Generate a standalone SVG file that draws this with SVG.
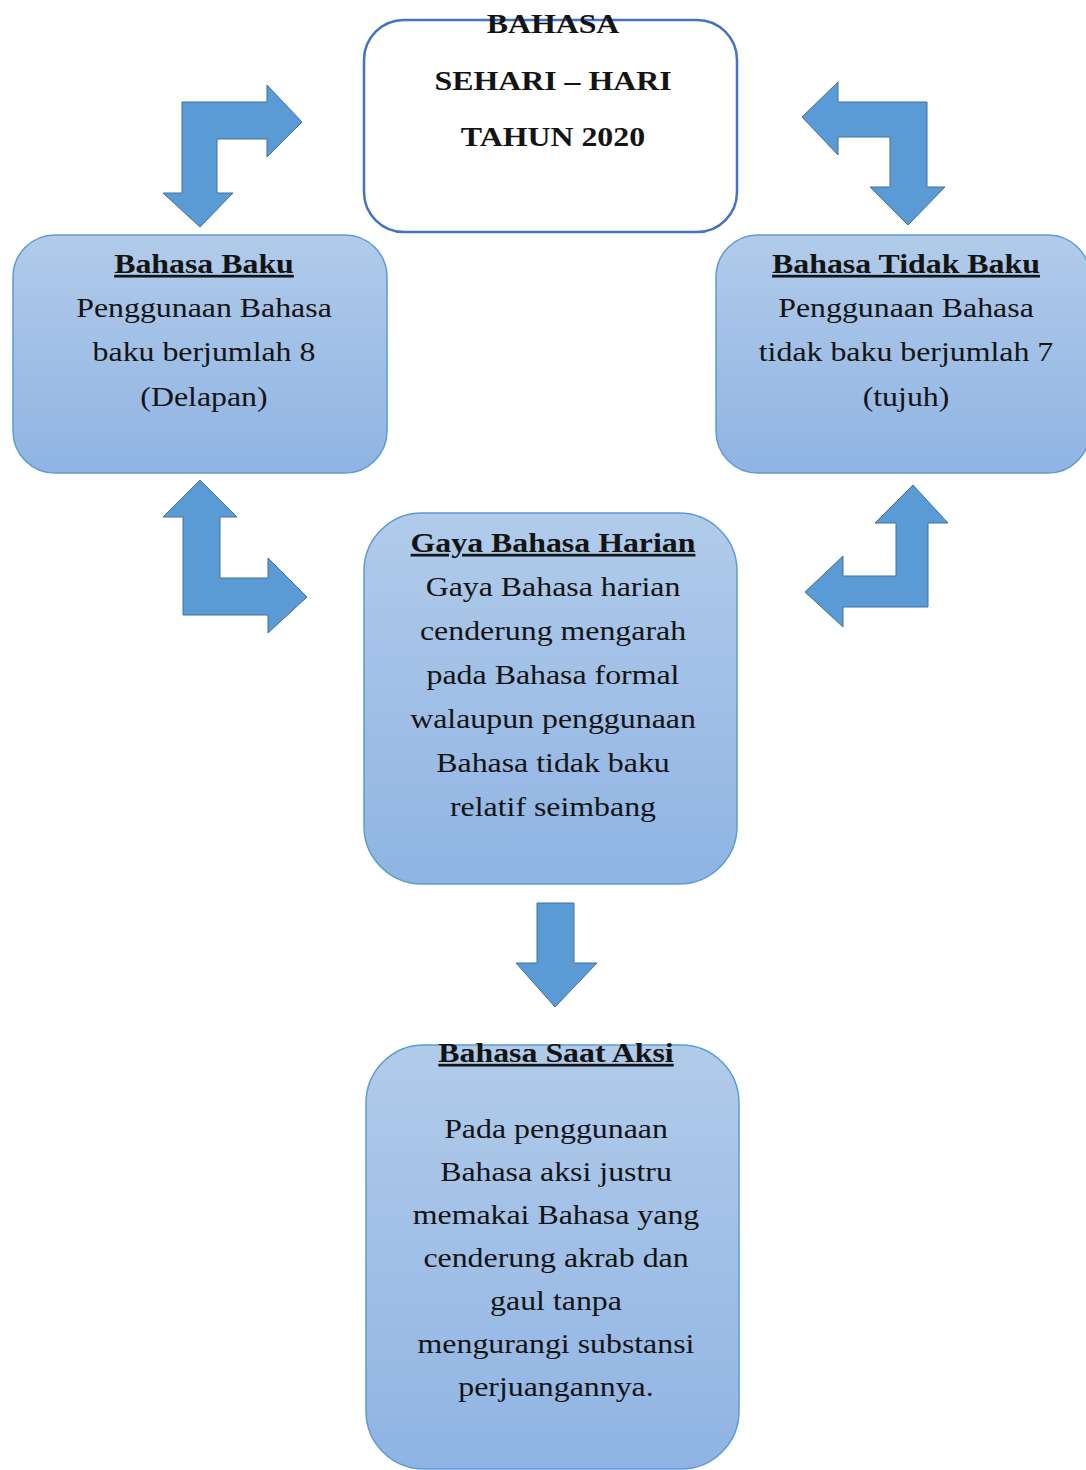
<svg xmlns="http://www.w3.org/2000/svg" width="1086" height="1470" viewBox="0 0 1086 1470">
<defs>
<linearGradient id="boxGrad" x1="0" y1="0" x2="0" y2="1">
<stop offset="0" stop-color="#b1cbea"/>
<stop offset="1" stop-color="#8fb4e3"/>
</linearGradient>
<style>
.box{fill:url(#boxGrad);stroke:#5b9bd5;stroke-width:1.5}
.top{fill:#ffffff;stroke:#4472c4;stroke-width:2.5}
.arrow{fill:#5b9bd5;stroke:#41719c;stroke-width:1}
text{font-family:"Liberation Serif","Times New Roman",serif;font-size:27px;fill:#141414;text-anchor:middle}
.b{font-weight:bold}
.u{font-weight:bold;text-decoration:underline}
</style>
</defs>
<rect width="1086" height="1470" fill="#ffffff"/>
<g id="connectors">
<path class="arrow" d="M182,102 L267,102 L267,85 L302,122 L267,157 L267,139 L217,139 L217,193 L233,193 L200,227 L163,193 L182,193 Z"/>
<path class="arrow" d="M927,102 L927,187 L945,187 L908,225 L870,187 L890,187 L890,137 L838,137 L838,155 L802,117 L838,82 L838,102 Z"/>
<path class="arrow" d="M183,517 L163,517 L200,480 L237,517 L220,517 L220,578 L268,578 L268,558 L307,597 L268,633 L268,615 L183,615 Z"/>
<path class="arrow" d="M928,523 L948,523 L913,485 L875,523 L896,523 L896,576 L843,576 L843,556 L805,592 L843,627 L843,607 L928,607 Z"/>
<path class="arrow" d="M537,903 L574,903 L574,963 L597,963 L555,1007 L516,963 L537,963 Z"/>
</g>
<g id="node-top">
<rect class="top" x="364" y="20" width="373" height="212" rx="40"/>
<g transform="translate(553,0) scale(1.18,1)">
<text class="b" x="0" y="33">BAHASA</text>
<text class="b" x="0" y="90">SEHARI – HARI</text>
<text class="b" x="0" y="146">TAHUN 2020</text>
</g>
</g>
<g id="node-baku">
<rect class="box" x="13" y="235" width="374" height="238" rx="42"/>
<g transform="translate(204,0) scale(1.18,1)">
<text class="u" x="0" y="273">Bahasa Baku</text>
<text x="0" y="317">Penggunaan Bahasa</text>
<text x="0" y="361">baku berjumlah 8</text>
<text x="0" y="406">(Delapan)</text>
</g>
</g>
<g id="node-tidak-baku">
<rect class="box" x="716" y="235" width="374" height="238" rx="42"/>
<g transform="translate(906,0) scale(1.18,1)">
<text class="u" x="0" y="273">Bahasa Tidak Baku</text>
<text x="0" y="317">Penggunaan Bahasa</text>
<text x="0" y="361">tidak baku berjumlah 7</text>
<text x="0" y="406">(tujuh)</text>
</g>
</g>
<g id="node-gaya">
<rect class="box" x="364" y="513" width="373" height="371" rx="58"/>
<g transform="translate(553,0) scale(1.18,1)">
<text class="u" x="0" y="552">Gaya Bahasa Harian</text>
<text x="0" y="596">Gaya Bahasa harian</text>
<text x="0" y="640">cenderung mengarah</text>
<text x="0" y="684">pada Bahasa formal</text>
<text x="0" y="728">walaupun penggunaan</text>
<text x="0" y="772">Bahasa tidak baku</text>
<text x="0" y="816">relatif seimbang</text>
</g>
</g>
<g id="node-aksi">
<rect class="box" x="366" y="1045" width="373" height="424" rx="58"/>
<g transform="translate(556,0) scale(1.18,1)">
<text class="u" x="0" y="1062">Bahasa Saat Aksi</text>
<text x="0" y="1138">Pada penggunaan</text>
<text x="0" y="1181">Bahasa aksi justru</text>
<text x="0" y="1224">memakai Bahasa yang</text>
<text x="0" y="1267">cenderung akrab dan</text>
<text x="0" y="1310">gaul tanpa</text>
<text x="0" y="1353">mengurangi substansi</text>
<text x="0" y="1396">perjuangannya.</text>
</g>
</g>
</svg>
